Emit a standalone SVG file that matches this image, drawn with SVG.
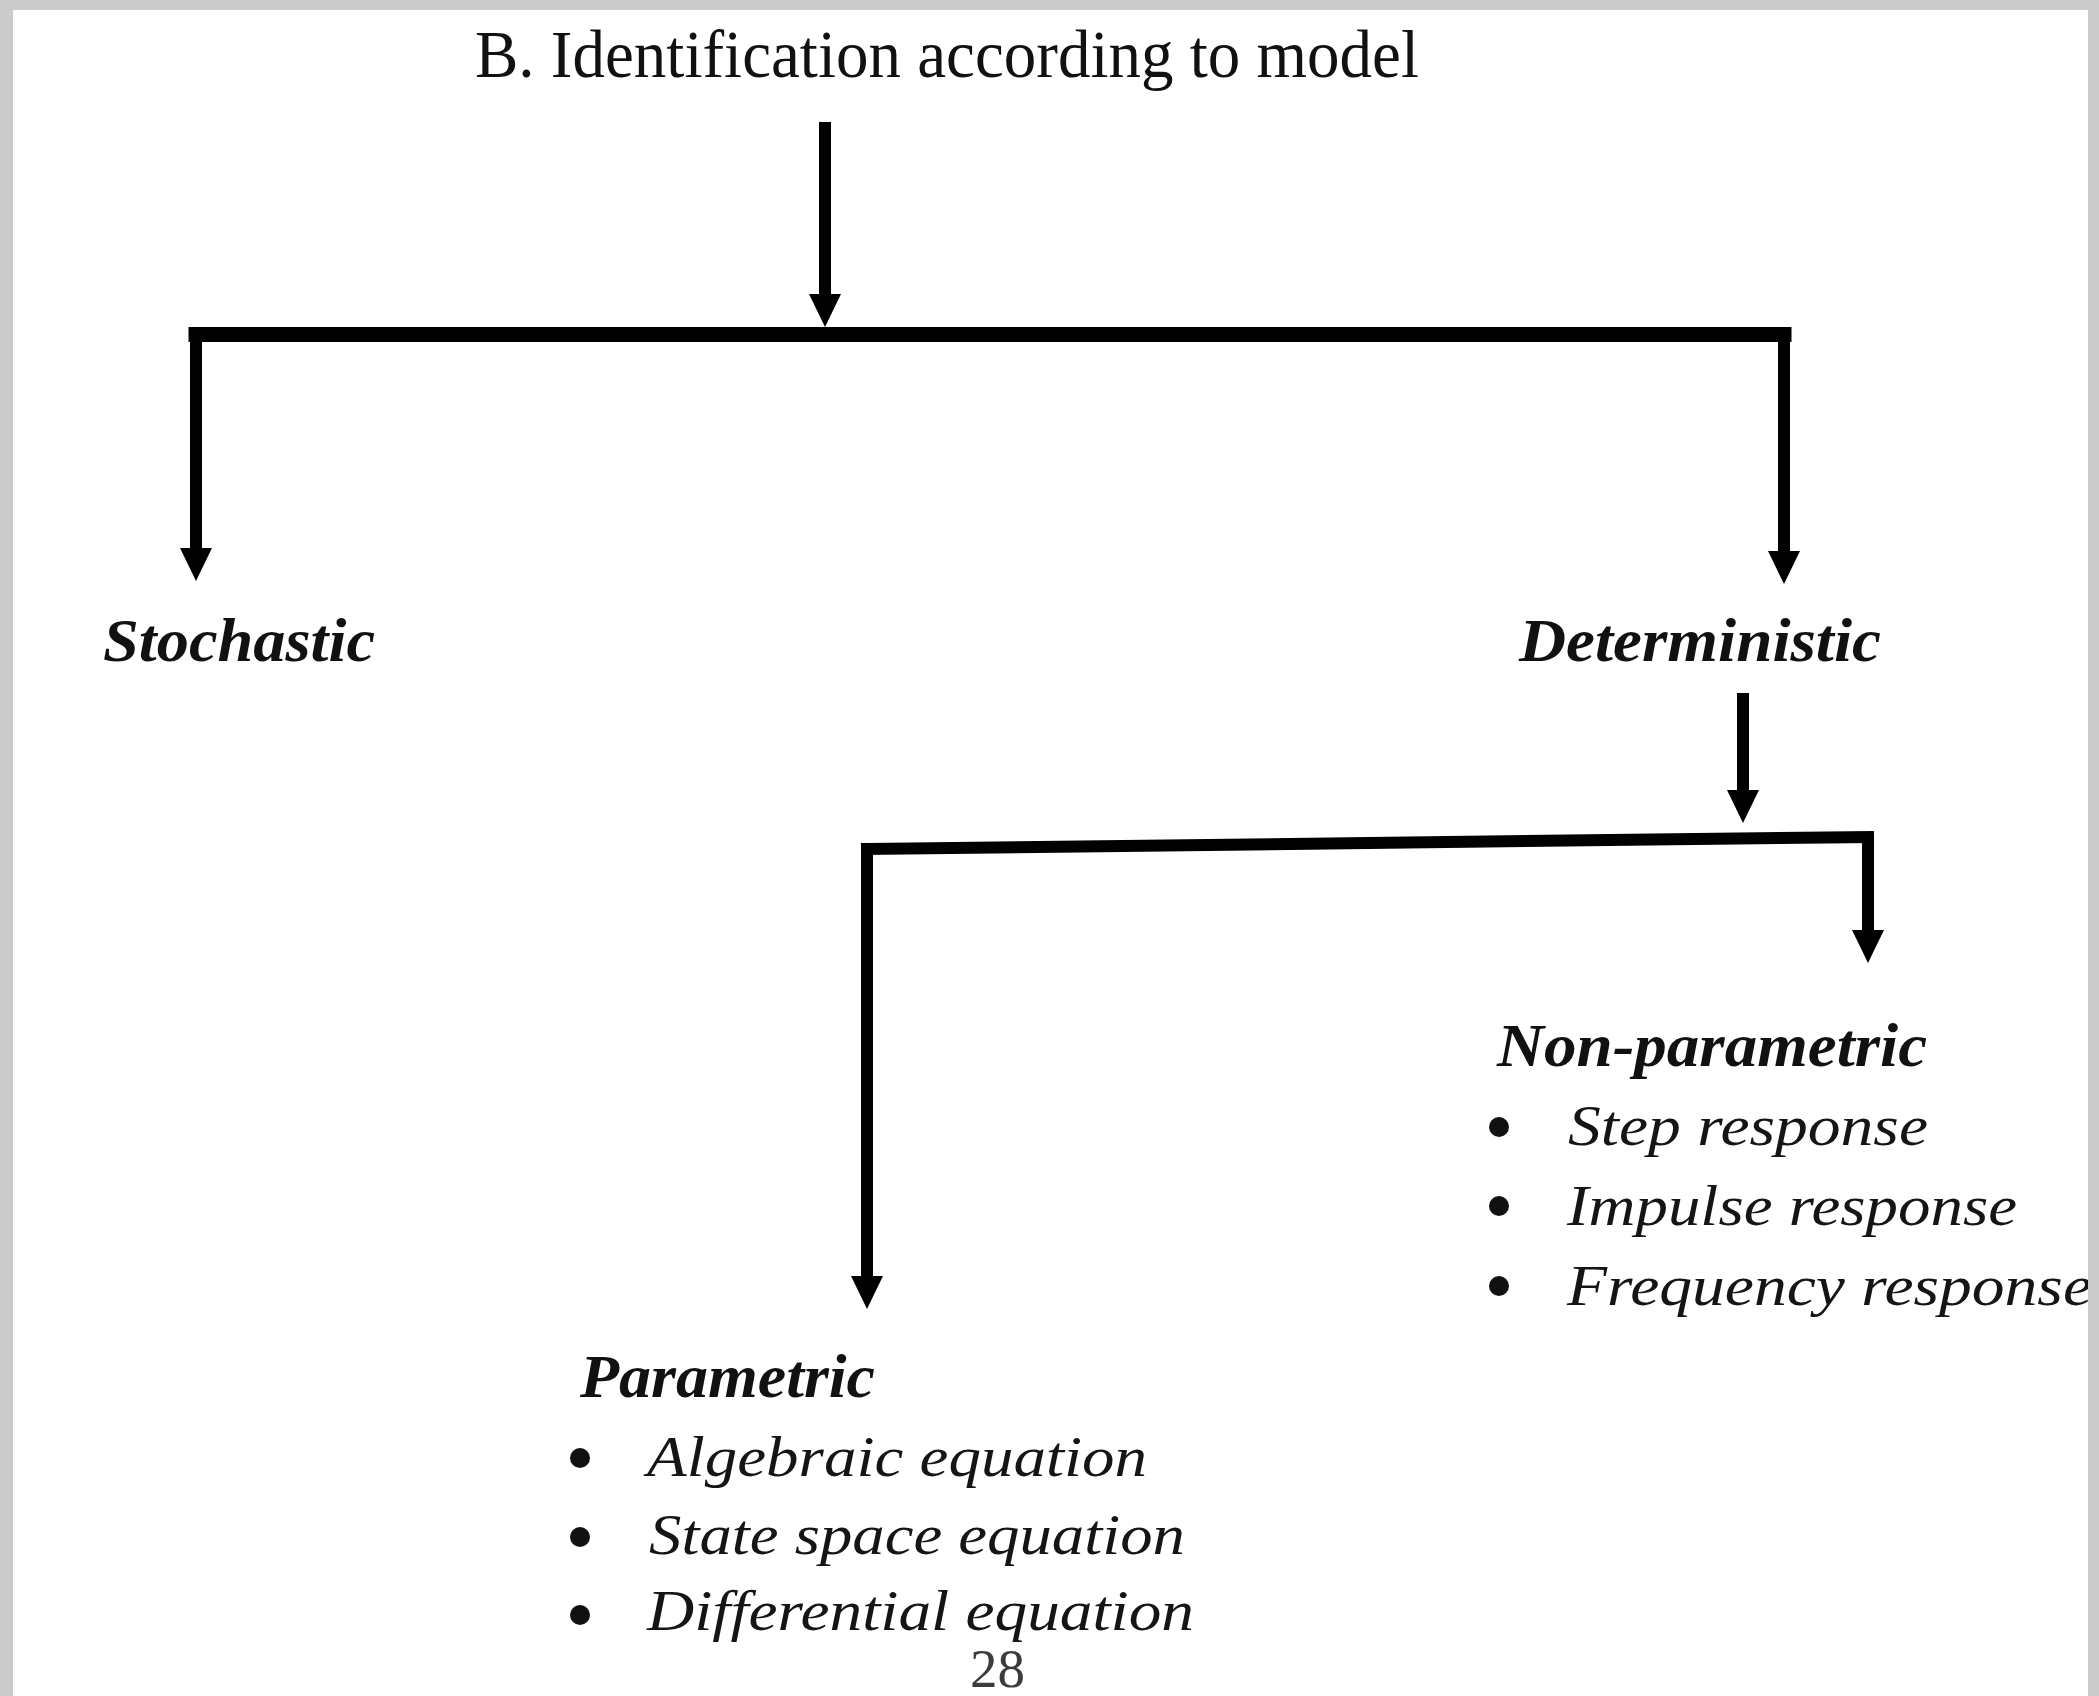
<svg xmlns="http://www.w3.org/2000/svg" width="2099" height="1696" viewBox="0 0 2099 1696">
  <style>
    .title { font-family: "Liberation Serif", "Times New Roman", serif; font-size: 67px; fill: #111; }
    .head { font-family: "Liberation Serif", "Times New Roman", serif; font-size: 62px; font-weight: bold; font-style: italic; fill: #111; }
    .item { font-family: "Liberation Serif", "Times New Roman", serif; font-size: 58px; font-style: italic; fill: #151515; }
    .page { font-family: "Liberation Serif", "Times New Roman", serif; font-size: 55px; fill: #3c3c3c; }
    .bar { stroke: #000; stroke-width: 15; fill: none; stroke-linecap: square; }
    .bar2 { stroke: #000; stroke-width: 12; fill: none; stroke-linecap: square; }
    .drop { stroke: #000; stroke-width: 12; fill: none; }
    .bullet { fill: #111; }
    .frame { fill: #cbcbcb; }
  </style>
  <defs>
    <marker id="head" markerUnits="userSpaceOnUse" viewBox="0 -16 33 32" refX="0" refY="0" markerWidth="33" markerHeight="32" orient="auto">
      <path d="M0,-16 L33,0 L0,16 Z" fill="#000"/>
    </marker>
  </defs>

  <rect x="0" y="0" width="2099" height="1696" fill="#ffffff"/>

  <!-- connectors -->
  <g id="connectors">
    <line class="drop" x1="825" y1="122" x2="825" y2="294" marker-end="url(#head)"/>
    <line class="bar" x1="196" y1="334.5" x2="1784" y2="334.5"/>
    <line class="drop" x1="196" y1="334" x2="196" y2="548" marker-end="url(#head)"/>
    <line class="drop" x1="1784" y1="334" x2="1784" y2="551" marker-end="url(#head)"/>
    <line class="drop" x1="1743" y1="693" x2="1743" y2="790" marker-end="url(#head)"/>
    <path class="bar2" d="M867,849 L1868,837"/>
    <line class="drop" x1="867" y1="849" x2="867" y2="1276" marker-end="url(#head)"/>
    <line class="drop" x1="1868" y1="837" x2="1868" y2="930" marker-end="url(#head)"/>
  </g>

  <!-- nodes -->
  <g id="node-root">
    <text class="title" x="475" y="77" textLength="944" lengthAdjust="spacingAndGlyphs">B. Identification according to model</text>
  </g>
  <g id="node-stochastic">
    <text class="head" x="103" y="661" textLength="272" lengthAdjust="spacingAndGlyphs">Stochastic</text>
  </g>
  <g id="node-deterministic">
    <text class="head" x="1519" y="661" textLength="362" lengthAdjust="spacingAndGlyphs">Deterministic</text>
  </g>
  <g id="node-nonparametric">
    <text class="head" x="1497" y="1066" textLength="430" lengthAdjust="spacingAndGlyphs">Non-parametric</text>
    <circle class="bullet" cx="1499" cy="1127" r="10"/>
    <circle class="bullet" cx="1499" cy="1206" r="10"/>
    <circle class="bullet" cx="1499" cy="1286" r="10"/>
    <text class="item" x="1568" y="1145" textLength="360" lengthAdjust="spacingAndGlyphs">Step response</text>
    <text class="item" x="1567" y="1225" textLength="450" lengthAdjust="spacingAndGlyphs">Impulse response</text>
    <text class="item" x="1567" y="1305" textLength="525" lengthAdjust="spacingAndGlyphs">Frequency response</text>
  </g>
  <g id="node-parametric">
    <text class="head" x="580" y="1397" textLength="295" lengthAdjust="spacingAndGlyphs">Parametric</text>
    <circle class="bullet" cx="580" cy="1458" r="10"/>
    <circle class="bullet" cx="580" cy="1537" r="10"/>
    <circle class="bullet" cx="580" cy="1615" r="10"/>
    <text class="item" x="647" y="1476" textLength="500" lengthAdjust="spacingAndGlyphs">Algebraic equation</text>
    <text class="item" x="649" y="1554" textLength="536" lengthAdjust="spacingAndGlyphs">State space equation</text>
    <text class="item" x="647" y="1630" textLength="547" lengthAdjust="spacingAndGlyphs">Differential equation</text>
  </g>

  <text class="page" x="970" y="1687">28</text>

  <!-- slide frame strips -->
  <rect class="frame" x="0" y="0" width="2099" height="10"/>
  <rect class="frame" x="0" y="0" width="13" height="1696"/>
  <rect class="frame" x="2088" y="0" width="11" height="1696"/>
</svg>
